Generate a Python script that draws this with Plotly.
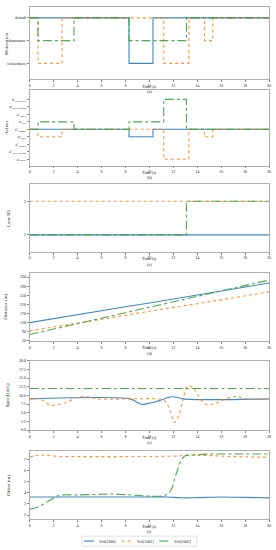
import plotly.graph_objects as go

# ---------------- data ----------------
names = ["Veh[1000]", "Veh[1001]", "Veh[1002]"]
colors = ["#1f77b4", "#ff7f0e", "#2ca02c"]
dashes = ["solid", "dot", "dashdot"]

# (a) motivation: 2=default, 1=dominance, 0=relaxedness
mot_labels = ["relaxedness", "dominance", "default"]
mot_t = [
    [0, 8.3, 10.3, 20],
    [0, 0.7, 2.7, 11.2, 13.3, 14.6, 15.3, 20],
    [0, 0.7, 3.7, 8.3, 13.1, 20],
]
mot_v = [
    [2, 0, 2, 2],
    [2, 0, 2, 0, 2, 1, 2, 2],
    [2, 1, 2, 1, 2, 2],
]

# (b) action level (-4..4)
act_labels = [
    "a<sup>e</sup><sub>brake</sub>",
    "a<sup>e</sup><sub>deceleration</sub>",
    "a<sup>e</sup><sub>slower</sub>",
    "a<sup>e</sup><sub>slow</sub>",
    "a<sup>e</sup><sub>normal</sub>",
    "a<sup>e</sup><sub>fast</sub>",
    "a<sup>e</sup><sub>faster</sub>",
    "a<sup>e</sup><sub>acceleration</sub>",
    "a<sup>e</sup><sub>overtaken</sub>",
]
act_levels = [-4, -3, -2, -1, 0, 1, 2, 3, 4]
act_t = [
    [0, 8.3, 10.3, 20],
    [0, 0.7, 2.7, 11.2, 13.3, 14.6, 15.3, 20],
    [0, 0.7, 3.7, 8.3, 11.2, 13.1, 20],
]
act_v = [
    [0, -1, 0, 0],
    [0, -1, 0, -4, 0, -1, 0, 0],
    [0, 1, 0, 1, 4, 0, 0],
]

# (c) lane id
lane_t = [[0, 20], [0, 20], [0, 13.1, 20]]
lane_v = [[2, 2], [3, 3], [2, 3, 3]]

# (d) distance (m)
dist_t = [0, 2, 4, 6, 8, 10, 12, 14, 16, 18, 20]
dist_v = [
    [130, 148, 165, 183, 200, 216, 233, 251, 269, 286, 304],
    [94, 110, 127, 145, 163, 181, 197, 213, 230, 248, 265],
    [78, 102, 126, 150, 174, 198, 222, 245, 269, 293, 317],
]

# (e) speed (m/s)
spd_t = [
    [0, 8.4, 8.9, 9.4, 9.9, 10.5, 11.0, 11.5, 11.9, 12.4, 12.8, 20],
    [0, 0.8, 1.2, 1.75, 2.4, 3.1, 3.9, 4.5, 5.0, 5.6, 10.6, 11.2, 11.6, 11.85, 12.1,
     12.4, 12.8, 13.2, 13.6, 14.1, 14.5, 14.9, 15.5, 16.3, 17.1, 17.6, 18.0, 20],
    [0, 20],
]
spd_v = [
    [9.0, 9.0, 8.2, 7.4, 7.7, 8.1, 8.7, 9.3, 9.6, 9.4, 9.0, 9.0],
    [9.0, 9.0, 8.3, 7.1, 7.4, 8.0, 9.4, 9.7, 9.5, 9.0, 9.0, 8.6, 6.8, 4.6, 2.2,
     3.8, 8.6, 12.7, 12.4, 9.9, 8.0, 7.2, 7.7, 8.9, 9.7, 9.4, 9.0, 9.0],
    [12.0, 12.0],
]

# (f) lateral offset (m)
off_t = [
    [0, 2, 4, 6, 8, 10, 11.5, 12.5, 13, 14, 16, 18, 20],
    [0, 0.5, 1.0, 1.6, 2.5, 4, 6, 8, 10, 12, 13, 14, 15, 16, 18, 20],
    [0, 0.5, 1.0, 1.5, 2.0, 2.5, 4, 6, 7, 8, 9.5, 11.3, 11.8, 12.1, 12.4, 12.7,
     13.0, 14, 15, 16, 18, 20],
]
off_v = [
    [3.62, 3.62, 3.62, 3.62, 3.62, 3.62, 3.62, 3.56, 3.54, 3.56, 3.62, 3.58, 3.54],
    [7.2, 7.33, 7.38, 7.33, 7.26, 7.24, 7.24, 7.24, 7.25, 7.28, 7.33, 7.35, 7.33, 7.28, 7.22, 7.18],
    [2.53, 2.65, 2.88, 3.2, 3.53, 3.77, 3.8, 3.86, 3.88, 3.83, 3.72, 3.77, 4.2, 5.2, 6.2, 7.0,
     7.32, 7.42, 7.46, 7.47, 7.47, 7.47],
]

# ---------------- figure ----------------
W, H = 276, 550
FONT = "Liberation Serif"
TXT = "#222222"
fig = go.Figure()

x0, x1 = 29 / W, 271 / W
panels = [  # (top px, bottom px)
    (4, 77), (88, 164), (183, 251), (272, 341), (361, 431), (452, 521)
]
letters = ["(a)", "(b)", "(c)", "(d)", "(e)", "(f)"]
ytitles = ["Motivation", "Action", "Lane ID", "Distance (m)", "Speed (m/s)", "Offset (m)"]
ytitle_x = [5, 6, 7, 5, 6, 7]

datasets = [
    (mot_t, mot_v, "hv"),
    (act_t, act_v, "hv"),
    (lane_t, lane_v, "hv"),
    ([dist_t] * 3, dist_v, "linear"),
    (spd_t, spd_v, "spline"),
    (off_t, off_v, "spline"),
]

for p, (ts, vs, shape) in enumerate(datasets):
    xa = "x" if p == 0 else f"x{p+1}"
    ya = "y" if p == 0 else f"y{p+1}"
    for i in range(3):
        fig.add_trace(go.Scatter(
            x=ts[i], y=vs[i], mode="lines", name=names[i],
            line=dict(color=colors[i], width=1.1, dash=dashes[i], shape=shape),
            opacity=0.85,
            xaxis=xa, yaxis=ya, showlegend=False,
        ))

axis_common = dict(
    showline=True, mirror=True, linecolor="#b0b0b0", linewidth=0.8,
    ticks="outside", ticklen=2, tickwidth=0.6, tickcolor="#888888",
    showgrid=False, zeroline=False,
    tickfont=dict(family=FONT, size=4, color=TXT),
)

yranges = [[-0.7, 2.48], [-4.84, 5.23], [1.5, 3.5], [50, 350], [0, 20], [1.62, 7.75]]
yticks = [
    dict(tickvals=[0, 1, 2], ticktext=mot_labels),
    dict(tickvals=act_levels, ticktext=act_labels),
    dict(tickvals=[2, 3], ticktext=["2", "3"]),
    dict(tickvals=[50, 90, 130, 170, 210, 250, 290, 330]),
    dict(tickvals=[0, 2.5, 5, 7.5, 10, 12.5, 15, 17.5, 20], tickformat=".1f"),
    dict(tickvals=[2, 3, 4, 5, 6, 7]),
]

layout = {}
annotations = []
xc = (x0 + x1) / 2
for p, (top, bot) in enumerate(panels):
    xk = "xaxis" if p == 0 else f"xaxis{p+1}"
    yk = "yaxis" if p == 0 else f"yaxis{p+1}"
    ya = "y" if p == 0 else f"y{p+1}"
    xa = "x" if p == 0 else f"x{p+1}"
    layout[xk] = dict(
        axis_common, domain=[x0, x1], anchor=ya, range=[0, 20],
        tickvals=list(range(0, 21, 2)),
    )
    layout[yk] = dict(
        axis_common, domain=[1 - bot / H, 1 - top / H], anchor=xa, range=yranges[p],
        **yticks[p],
    )
    annotations.append(dict(
        text="Time (s)", xref="paper", yref="paper", x=xc, y=1 - (bot + 7.0) / H,
        xanchor="center", yanchor="middle", showarrow=False,
        font=dict(family=FONT, size=4.2, color=TXT),
    ))
    annotations.append(dict(
        text=letters[p], xref="paper", yref="paper", x=xc, y=1 - (bot + 12.6) / H,
        xanchor="center", yanchor="middle", showarrow=False,
        font=dict(family=FONT, size=4.2, color=TXT),
    ))
    annotations.append(dict(
        text=ytitles[p], xref="paper", yref="paper", x=ytitle_x[p] / W,
        y=1 - (top + bot) / 2 / H, xanchor="center", yanchor="middle",
        textangle=-90, showarrow=False,
        font=dict(family=FONT, size=5, color=TXT),
    ))

# custom legend (box + samples + labels)
shapes = []
lg_top, lg_bot = 538, 548
shapes.append(dict(type="rect", xref="paper", yref="paper",
                   x0=82 / W, x1=198 / W, y0=1 - lg_bot / H, y1=1 - lg_top / H,
                   line=dict(color="#cccccc", width=0.6), fillcolor="white"))
leg_line_x = [(84, 94), (122, 132), (160, 170)]
leg_text_x = [97, 135, 173]
ly = 1 - 543 / H
for i in range(3):
    a, b = leg_line_x[i]
    shapes.append(dict(type="line", xref="paper", yref="paper",
                       x0=a / W, x1=b / W, y0=ly, y1=ly,
                       line=dict(color=colors[i], width=1.0, dash=dashes[i])))
    annotations.append(dict(
        text=names[i], xref="paper", yref="paper", x=leg_text_x[i] / W, y=ly,
        xanchor="left", yanchor="middle", showarrow=False,
        font=dict(family=FONT, size=4, color=TXT),
    ))

fig.update_layout(
    width=W, height=H,
    margin=dict(l=0, r=0, t=0, b=0),
    paper_bgcolor="white", plot_bgcolor="white",
    font=dict(family=FONT, size=5, color=TXT),
    showlegend=False,
    annotations=annotations,
    shapes=shapes,
    **layout,
)

fig.write_html(
    "out.html",
    config={"displayModeBar": False},
    post_script="document.body.style.margin='0';document.body.style.overflow='hidden';",
)
